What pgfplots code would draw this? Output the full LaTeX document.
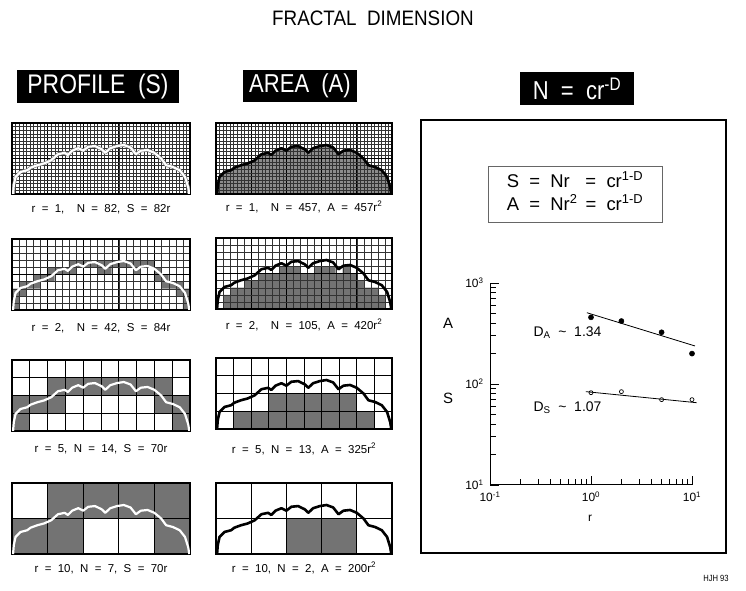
\documentclass[border=0pt]{standalone}
\usepackage{pgfplots}
\usepackage{pgfplotstable}
\pgfplotsset{compat=1.18}
\usepackage{fontspec}
\setmainfont{Liberation Sans}
\newfontfamily\headfont[FakeStretch=0.85]{Liberation Sans}
\newfontfamily\titlefont[FakeStretch=0.9]{Liberation Sans}
\newfontfamily\labfont[WordSpace=2.0]{Liberation Sans}
\definecolor{cellgray}{gray}{0.45}
\definecolor{lcellgray}{gray}{0.55}

\pgfplotstableread{
x y
0.3 0
0.5 2.5
1 4.8
2.4 6.2
4.3 6.7
5.2 7.4
7.1 8.1
9 8.6
11 9.5
12.9 11.2
14.8 11.6
15.7 11
16.9 12.2
18.6 12.9
20 12.2
21.4 13.3
23.3 13.5
25.2 12.6
26.2 11.6
27.6 12.9
29.5 13.5
31.4 13.8
33.3 13.1
34.8 11.2
36.2 12.2
38.1 12.4
40 11.6
41.9 10
43.3 8.1
45.2 7.6
47.1 6.7
48.6 4.8
49.5 1.9
49.8 0
}\curve

\pgfplotsset{
 panel/.style={scale only axis, width=#1, height=71bp, xmin=0, xmax=50, ymin=0, ymax=20,
   anchor=north west, xticklabels={}, yticklabels={}, major tick length=0pt, minor tick length=0pt,
   axis on top, axis line style={line width=1.5bp},
   major grid style={line width=0.9bp, black}, minor grid style={line width=0.25bp, black!80}},
 over/.style={scale only axis, width=#1, height=71bp, xmin=0, xmax=50, ymin=0, ymax=20,
   anchor=north west, hide axis},
 g1/.style={xtick={0,10,...,50}, ytick={0,10,20}, minor xtick={0,1,...,50}, minor ytick={0,1,...,20}, grid=both},
 g2/.style={xtick={0,10,...,50}, ytick={0,10,20}, minor xtick={0,2,...,50}, minor ytick={0,2,...,20}, grid=both},
 g5/.style={xtick={0,5,...,50}, ytick={0,5,...,20}, grid=major, major grid style={line width=0.7bp, black}},
 g10/.style={xtick={0,10,...,50}, ytick={0,10,20}, grid=major},
 wcurve/.style={white, line width=2.2bp, line join=round},
 bcurve/.style={black, line width=2.6bp, line join=round},
}

\begin{document}
\begin{tikzpicture}
\useasboundingbox (0,0) rectangle (746bp,591bp);

% title and headers
\node[font=\titlefont\fontsize{21}{23}\selectfont] at (373bp,573bp) {FRACTAL\ \ DIMENSION};
\node[fill=black, text=white, minimum width=162bp, minimum height=33bp, inner sep=0pt,
  font=\headfont\fontsize{27}{29}\selectfont] at (98bp,504.5bp) {PROFILE\ \ (S)};
\node[fill=black, text=white, minimum width=114bp, minimum height=32bp, inner sep=0pt,
  font=\headfont\fontsize{26}{28}\selectfont] at (300bp,505bp) {AREA\ \ (A)};
\node[fill=black, text=white, minimum width=114bp, minimum height=33bp, inner sep=0pt,
  font=\headfont\fontsize{26}{28}\selectfont] at (577bp,502.5bp) {N\ \ =\ \ cr\textsuperscript{-D}};

% ---------- PROFILE column ----------
% r = 1
\begin{axis}[panel=178bp, g1, at={(12bp,468bp)}]
\end{axis}
\begin{axis}[over=178bp, at={(12bp,468bp)}]
\addplot[draw=cellgray, line width=3.4bp, line join=round] table {\curve};
\addplot[wcurve] table {\curve};
\end{axis}
% r = 2
\begin{axis}[panel=178bp, g2, at={(12bp,352bp)}]
\addplot[fill=cellgray, draw=none] coordinates {
(0,6)(2,6)(2,8)(6,8)(6,10)(10,10)(10,12)(16,12)(16,14)(40,14)(40,12)(42,12)(42,10)(44,10)(44,8)(48,8)(48,6)(50,6)
(50,0)(48,0)(48,4)(46,4)(46,6)(42,6)(42,8)(40,8)(40,12)(36,12)(36,10)(34,10)(34,12)(28,12)(28,10)(24,10)(24,12)
(18,12)(18,10)(12,10)(12,8)(8,8)(8,6)(4,6)(4,4)(2,4)(2,0)(0,0)} -- cycle;
\end{axis}
\begin{axis}[over=178bp, at={(12bp,352bp)}]
\addplot[wcurve] table {\curve};
\end{axis}
% r = 5
\begin{axis}[panel=178bp, g5, at={(12bp,231bp)}]
\addplot[fill=cellgray, draw=none] coordinates {
(0,10)(10,10)(10,15)(45,15)(45,10)(50,10)(50,0)(45,0)(45,5)(40,5)(40,10)(15,10)(15,5)(5,5)(5,0)(0,0)} -- cycle;
\end{axis}
\begin{axis}[over=178bp, at={(12bp,231bp)}]
\addplot[wcurve] table {\curve};
\end{axis}
% r = 10
\begin{axis}[panel=178bp, g10, at={(12bp,108bp)}]
\addplot[fill=cellgray, draw=none] coordinates {
(0,10)(10,10)(10,20)(50,20)(50,0)(40,0)(40,10)(20,10)(20,0)(0,0)} -- cycle;
\end{axis}
\begin{axis}[over=178bp, at={(12bp,108bp)}]
\addplot[wcurve] table {\curve};
\end{axis}

% ---------- AREA column ----------
% r = 1
\begin{axis}[panel=176bp, g1, at={(216bp,468bp)}]
\addplot[fill=lcellgray, draw=none] table {\curve} \closedcycle;
\end{axis}
\begin{axis}[over=176bp, at={(216bp,468bp)}]
\addplot[bcurve] table {\curve};
\end{axis}
% r = 2
\begin{axis}[panel=176bp, g2, at={(216bp,353bp)}]
\addplot[fill=cellgray, draw=none, const plot] coordinates {
(0,0)(2,4)(4,6)(6,6)(8,8)(10,8)(12,10)(14,10)(16,10)(18,12)(20,12)(22,12)(24,10)(26,10)(28,12)(30,12)(32,12)
(34,10)(36,12)(38,10)(40,8)(42,6)(44,6)(46,4)(48,0)(50,0)} \closedcycle;
\end{axis}
\begin{axis}[over=176bp, at={(216bp,353bp)}]
\addplot[bcurve] table {\curve};
\end{axis}
% r = 5
\begin{axis}[panel=176bp, g5, at={(216bp,233bp)}]
\addplot[fill=cellgray, draw=none, const plot] coordinates {(0,0)(5,5)(10,5)(15,10)(40,5)(45,0)(50,0)} \closedcycle;
\end{axis}
\begin{axis}[over=176bp, at={(216bp,233bp)}]
\addplot[bcurve] table {\curve};
\end{axis}
% r = 10
\begin{axis}[panel=176bp, g10, at={(216bp,108bp)}]
\addplot[fill=cellgray, draw=none, const plot] coordinates {(0,0)(20,10)(40,0)(50,0)} \closedcycle;
\end{axis}
\begin{axis}[over=176bp, at={(216bp,108bp)}]
\addplot[bcurve] table {\curve};
\end{axis}

% panel captions
\begin{scope}[every node/.style={font=\labfont\fontsize{11.5}{13}\selectfont}]
\node at (101bp,382bp) {r = 1,\hspace{6bp} N = 82, S = 82r};
\node at (101bp,263bp) {r = 2,\hspace{6bp} N = 42, S = 84r};
\node at (101bp,142bp) {r = 5, N = 14, S = 70r};
\node at (101bp,22bp) {r = 10, N = 7, S = 70r};
\node at (304bp,384bp) {r = 1,\hspace{6bp} N = 457, A = 457r\textsuperscript{2}};
\node at (304bp,266bp) {r = 2,\hspace{6bp} N = 105, A = 420r\textsuperscript{2}};
\node at (304bp,142bp) {r = 5, N = 13, A = 325r\textsuperscript{2}};
\node at (304bp,23bp) {r = 10, N = 2, A = 200r\textsuperscript{2}};
\end{scope}

% right frame
\draw[line width=1.6bp] (421bp,471bp) rectangle (726bp,38bp);
\draw[line width=0.6bp, black!60] (488bp,425bp) rectangle (662bp,369bp);
\node[font=\labfont\fontsize{18.5}{23}\selectfont] at (575bp,397bp) {%
\begin{tabular}{@{}l@{\hspace{8bp}}l@{}}
S = Nr & = cr\textsuperscript{1-D}\\
A = Nr\textsuperscript{2} & = cr\textsuperscript{1-D}
\end{tabular}};

% log-log plot
\begin{axis}[at={(490bp,106bp)}, anchor=south west, scale only axis, width=202bp, height=202bp,
  xmode=log, ymode=log, xmin=0.1, xmax=10, ymin=10, ymax=1000,
  axis x line=bottom, axis y line=left, axis line style={-, line width=1bp},
  tick align=inside, major tick length=9bp, minor tick length=6bp,
  every tick/.style={black, line width=0.8bp},
  xtick={0.1,1,10}, xticklabels={10\textsuperscript{-1},10\textsuperscript{0},10\textsuperscript{1}},
  ytick={10,100,1000}, yticklabels={10\textsuperscript{1},10\textsuperscript{2},10\textsuperscript{3}},
  minor xtick={0.2,0.3,0.4,0.5,0.6,0.7,0.8,0.9,2,3,4,5,6,7,8,9},
  minor ytick={20,30,40,50,60,70,80,90,200,300,400,500,600,700,800,900},
  xticklabel style={font=\fontsize{12}{14}\selectfont, yshift=-3bp},
  yticklabel style={font=\fontsize{12}{14}\selectfont, xshift=-3bp},
  clip=false]
\addplot[black, line width=0.8bp] coordinates {(0.91,508)(10.7,238)};
\addplot[black, line width=0.8bp] coordinates {(0.89,84)(11.1,65.3)};
\addplot[only marks, mark=*, mark size=2.6bp, black] coordinates {(1,457)(2,420)(5,325)(10,200)};
\addplot[only marks, mark=o, mark size=2bp, black, mark options={fill=white, line width=0.7bp}] coordinates {(1,82)(2,84)(5,70)(10,70)};
\end{axis}
\node[font=\fontsize{15}{18}\selectfont] at (448bp,268bp) {A};
\node[font=\fontsize{15}{18}\selectfont] at (448bp,193bp) {S};
\node[anchor=west, font=\fontsize{14}{16}\selectfont] at (530bp,258bp) {D\textsubscript{A}\ \ \textasciitilde\ \ 1.34};
\node[anchor=west, font=\fontsize{14}{16}\selectfont] at (530bp,183bp) {D\textsubscript{S}\ \ \textasciitilde\ \ 1.07};
\node[font=\fontsize{12}{14}\selectfont] at (590bp,73bp) {r};
\node[font=\headfont\fontsize{9}{10}\selectfont] at (716bp,13bp) {HJH\ 93};
\end{tikzpicture}
\end{document}
